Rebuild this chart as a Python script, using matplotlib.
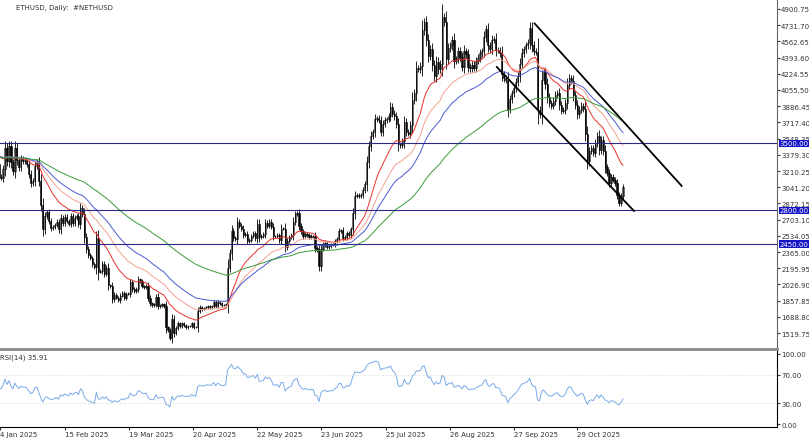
import numpy as np, pandas as pd
import matplotlib
matplotlib.use("Agg")
import matplotlib.pyplot as plt

closes = [
3330,3390,3360,3410,3460,3480,3450,
3610,3640,3680,3620,3380,3330,3220,
3260,3280,3150,3140,3230,3450,3310,
3470,3300,3210,3450,3320,3250,3340,
3310,3320,3280,3180,3080,3110,3260,
3300,3110,2860,2600,2740,2780,2690,
2620,2630,2650,2680,2600,2720,2670,
2730,2690,2660,2740,2670,2720,2740,
2660,2820,2760,2520,2400,2330,2300,
2240,2210,2510,2160,2170,2240,2140,
2200,2020,2010,1870,1920,1890,1860,
1910,1940,1890,1930,1930,2050,1980,
1960,1980,2080,2060,2010,2000,2010,
1890,1830,1810,1820,1900,1800,1810,
1820,1800,1580,1550,1470,1670,1520,
1570,1620,1590,1620,1600,1580,1590,
1590,1620,1580,1580,1750,1790,1770,
1780,1790,1800,1790,1800,1840,1800,
1840,1830,1810,1810,1820,2200,2350,
2580,2510,2500,2680,2640,2610,2540,
2550,2480,2490,2530,2560,2510,2660,
2520,2530,2550,2670,2640,2680,2630,
2530,2530,2540,2490,2610,2610,2420,
2480,2520,2540,2680,2760,2770,2640,
2580,2530,2550,2540,2520,2530,2530,
2410,2390,2220,2400,2440,2460,2420,
2430,2440,2440,2480,2500,2580,2590,
2510,2520,2560,2540,2600,2770,2950,
2960,2950,2960,3010,3070,3300,3470,
3580,3620,3750,3760,3740,3620,3700,
3740,3750,3780,3880,3810,3780,3700,
3490,3480,3520,3720,3620,3600,3690,
3950,4020,4280,4270,4310,4680,4760,
4580,4410,4480,4320,4200,4350,4270,
4330,4820,4770,4380,4490,4520,4580,
4360,4380,4460,4400,4300,4460,4430,
4300,4280,4320,4290,4360,4390,4440,
4460,4610,4690,4520,4480,4580,4590,
4470,4470,4440,4220,4180,4160,3860,
3960,4020,4080,4140,4200,4330,4440,
4480,4520,4550,4700,4520,4460,4450,
3850,3800,4160,4240,4120,3980,3920,
3890,3940,4000,4020,3900,3840,3850,
3920,4110,4180,4150,4000,3900,3800,
3850,3890,3860,3600,3310,3420,3450,
3400,3500,3580,3430,3530,3420,3250,
3190,3090,3150,3120,3080,2960,2880,
2950,3040]
h_levels = [3500.00, 2800.00, 2450.00]
price_ticks = [4900.75,4731.70,4562.65,4393.60,4224.55,4055.50,3886.45,3717.40,3548.35,
               3379.30,3210.25,3041.20,2872.15,2703.10,2534.05,2365.00,2195.95,2026.90,
               1857.85,1688.80,1519.75]
date_labels = ["4 Jan 2025","15 Feb 2025","19 Mar 2025","20 Apr 2025","22 May 2025","23 Jun 2025",
               "25 Jul 2025","26 Aug 2025","27 Sep 2025","29 Oct 2025"]
date_label_bars = [16.5, 49, 81.5, 113.5, 146, 178, 210.5, 243, 275, 307]
# trend lines as (bar index, price)
trend_top = [(285.5, 4750), (359.5, 3055)]
trend_bot = [(266.5, 4296), (335.5, 2794)]

c = pd.Series(closes, dtype=float)
o = c.shift(1).fillna(c.iloc[0]*0.99)
spread = (c - o).abs()
hi = np.maximum(o, c) + spread*0.2 + c*0.007
lo = np.minimum(o, c) - spread*0.2 - c*0.007

ema20 = c.ewm(span=20, adjust=False).mean()
ema30 = c.ewm(span=35, adjust=False).mean()
sma50 = c.ewm(span=50, adjust=False).mean()
ema100 = c.ewm(span=100, adjust=False).mean()
d = c.diff()
up = d.clip(lower=0).ewm(alpha=1/14, adjust=False).mean()
dn = (-d.clip(upper=0)).ewm(alpha=1/14, adjust=False).mean()
rsi = 100 - 100/(1+up/dn)

W, H = 809, 439
fig = plt.figure(figsize=(W/100, H/100), dpi=100)
ax = fig.add_axes([0, 1-350/H, 777/W, 350/H])
ar = fig.add_axes([0, 1-428/H, 777/W, 76/H], sharex=ax)

x = np.arange(len(c))
for xi, oi, ci, h, l in zip(x, o, c, hi, lo):
    ax.vlines(xi, l, h, color="black", lw=0.6)
    fc = "white" if ci >= oi else "black"
    ax.bar(xi, max(abs(ci-oi), 4), bottom=min(oi, ci), width=0.6, color=fc, edgecolor="black", lw=0.4)
ax.plot(x, ema20, color="#e8302a", lw=0.7)
ax.plot(x, ema30, color="#f4a090", lw=0.7)
ax.plot(x, sma50, color="#4a5ad0", lw=0.7)
ax.plot(x, ema100, color="#3a9a3a", lw=0.7)
for lv in h_levels:
    ax.axhline(lv, color="#2a2a8a", lw=0.8)
    ax.text(1.003, lv, f"{lv:.2f}", transform=ax.get_yaxis_transform(), fontsize=5,
            color="white", va="center", ha="left",
            bbox=dict(boxstyle="square,pad=0.1", fc="#1515c8", ec="none"))
for tl in (trend_top, trend_bot):
    ax.plot([t[0] for t in tl], [t[1] for t in tl], color="black", lw=1.3)

x0 = len(c) - 1 - 311
ax.set_xlim(x0, x0 + 777/2.0)
ax.set_ylim(1353, 5005)
ax.yaxis.tick_right()
ax.set_yticks(price_ticks)
ax.set_yticklabels([f"{t:.2f}" for t in price_ticks])
ax.tick_params(axis="y", labelsize=5, colors="#333333", length=2, pad=1)
ax.tick_params(axis="x", bottom=False, labelbottom=False)
for s in ["top", "left"]:
    ax.spines[s].set_visible(False)
ax.spines["bottom"].set_color("#888888"); ax.spines["bottom"].set_linewidth(2)
ax.spines["right"].set_color("#666666")
ax.text(0.02, 0.985, "ETHUSD, Daily:  #NETHUSD", transform=ax.transAxes, fontsize=5,
        color="#333333", va="top")

ar.plot(x, rsi, color="#7aaae8", lw=0.7)
for lv in (70, 30):
    ar.axhline(lv, color="#cccccc", lw=0.6, ls=(0, (1, 2)))
ar.set_ylim(-4, 104)
ar.yaxis.tick_right()
ar.set_yticks([100, 70, 30, 0])
ar.set_yticklabels(["100.00", "70.00", "30.00", "0.00"])
ar.tick_params(axis="y", labelsize=5, colors="#333333", length=2, pad=1)
ar.set_xticks(date_label_bars)
ar.set_xticklabels(date_labels, ha="left")
ar.tick_params(axis="x", labelsize=5, colors="#333333", length=2, pad=1)
for s in ["top", "left"]:
    ar.spines[s].set_visible(False)
ar.text(0.0, 0.97, f"RSI(14) {rsi.iloc[-1]:.2f}", transform=ar.transAxes, fontsize=5,
        color="#333333", va="top")
fig.savefig("out.png", dpi=100)
